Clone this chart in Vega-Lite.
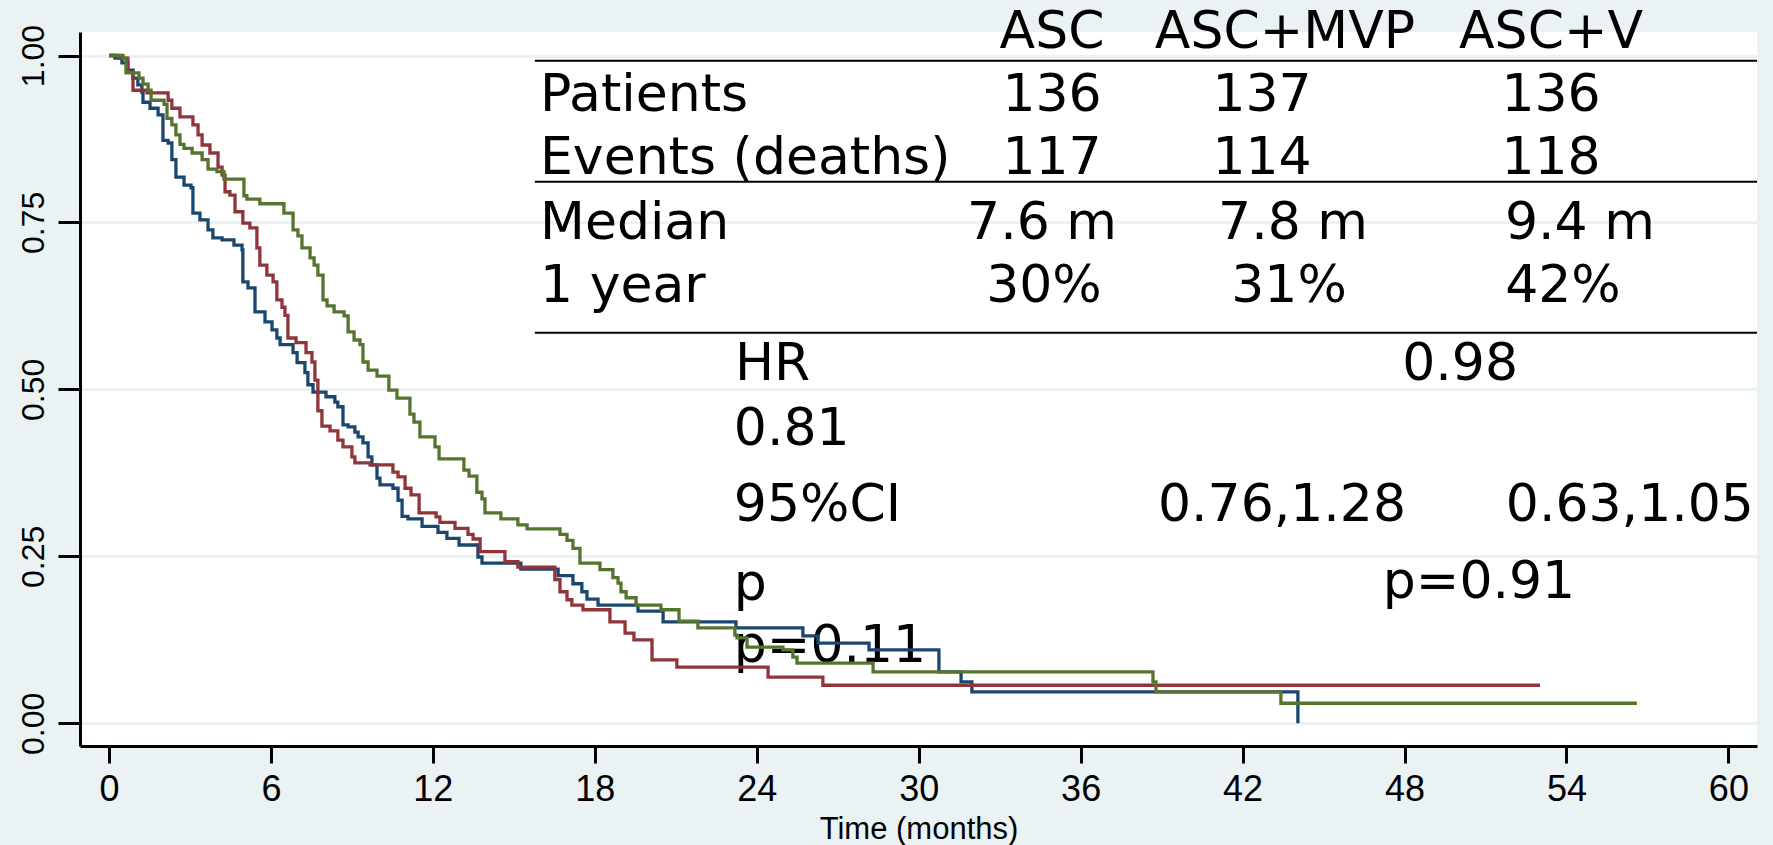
{
  "$schema": "https://vega.github.io/schema/vega-lite/v6.json",
  "width": 1677,
  "height": 714,
  "autosize": {"type": "none"},
  "padding": {"left": 80, "top": 32, "right": 16, "bottom": 99},
  "background": "#EAF2F3",
  "config": {"view": {"fill": "white", "stroke": null}},
  "datasets": {
    "curves": [
      {"arm":"ASC","t":0,"s":1},{"arm":"ASC","t":0.22,"s":0.996},{"arm":"ASC","t":0.48,"s":0.989},{"arm":"ASC","t":0.70,"s":0.978},{"arm":"ASC","t":0.89,"s":0.966},{"arm":"ASC","t":1.07,"s":0.956},{"arm":"ASC","t":1.22,"s":0.945},{"arm":"ASC","t":1.26,"s":0.930},{"arm":"ASC","t":1.52,"s":0.921},{"arm":"ASC","t":1.82,"s":0.911},{"arm":"ASC","t":2.00,"s":0.873},{"arm":"ASC","t":2.19,"s":0.869},{"arm":"ASC","t":2.33,"s":0.844},{"arm":"ASC","t":2.48,"s":0.818},{"arm":"ASC","t":2.78,"s":0.806},{"arm":"ASC","t":3.04,"s":0.802},{"arm":"ASC","t":3.11,"s":0.764},{"arm":"ASC","t":3.37,"s":0.754},{"arm":"ASC","t":3.67,"s":0.739},{"arm":"ASC","t":3.85,"s":0.727},{"arm":"ASC","t":4.19,"s":0.724},{"arm":"ASC","t":4.63,"s":0.716},{"arm":"ASC","t":4.93,"s":0.709},{"arm":"ASC","t":4.96,"s":0.661},{"arm":"ASC","t":5.15,"s":0.652},{"arm":"ASC","t":5.41,"s":0.616},{"arm":"ASC","t":5.78,"s":0.601},{"arm":"ASC","t":6.04,"s":0.589},{"arm":"ASC","t":6.22,"s":0.577},{"arm":"ASC","t":6.34,"s":0.567},{"arm":"ASC","t":6.82,"s":0.555},{"arm":"ASC","t":6.97,"s":0.540},{"arm":"ASC","t":7.26,"s":0.525},{"arm":"ASC","t":7.37,"s":0.507},{"arm":"ASC","t":7.56,"s":0.496},{"arm":"ASC","t":8.04,"s":0.489},{"arm":"ASC","t":8.37,"s":0.481},{"arm":"ASC","t":8.48,"s":0.474},{"arm":"ASC","t":8.67,"s":0.447},{"arm":"ASC","t":8.86,"s":0.444},{"arm":"ASC","t":9.11,"s":0.436},{"arm":"ASC","t":9.23,"s":0.429},{"arm":"ASC","t":9.41,"s":0.420},{"arm":"ASC","t":9.60,"s":0.399},{"arm":"ASC","t":9.74,"s":0.387},{"arm":"ASC","t":9.93,"s":0.367},{"arm":"ASC","t":10.04,"s":0.357},{"arm":"ASC","t":10.52,"s":0.352},{"arm":"ASC","t":10.71,"s":0.334},{"arm":"ASC","t":10.86,"s":0.310},{"arm":"ASC","t":11.08,"s":0.306},{"arm":"ASC","t":11.60,"s":0.295},{"arm":"ASC","t":12.19,"s":0.286},{"arm":"ASC","t":12.52,"s":0.277},{"arm":"ASC","t":12.97,"s":0.267},{"arm":"ASC","t":13.67,"s":0.249},{"arm":"ASC","t":13.82,"s":0.240},{"arm":"ASC","t":15.26,"s":0.231},{"arm":"ASC","t":16.64,"s":0.221},{"arm":"ASC","t":17.19,"s":0.209},{"arm":"ASC","t":17.52,"s":0.197},{"arm":"ASC","t":17.71,"s":0.186},{"arm":"ASC","t":18.12,"s":0.177},{"arm":"ASC","t":19.60,"s":0.168},{"arm":"ASC","t":20.53,"s":0.152},{"arm":"ASC","t":23.23,"s":0.143},{"arm":"ASC","t":25.71,"s":0.131},{"arm":"ASC","t":26.27,"s":0.120},{"arm":"ASC","t":28.16,"s":0.110},{"arm":"ASC","t":30.75,"s":0.077},{"arm":"ASC","t":31.57,"s":0.062},{"arm":"ASC","t":31.97,"s":0.047},{"arm":"ASC","t":44.05,"s":0},
      {"arm":"ASC+MVP","t":0,"s":1},{"arm":"ASC+MVP","t":0.37,"s":0.996},{"arm":"ASC+MVP","t":0.70,"s":0.975},{"arm":"ASC+MVP","t":0.89,"s":0.948},{"arm":"ASC+MVP","t":1.41,"s":0.944},{"arm":"ASC+MVP","t":2.19,"s":0.933},{"arm":"ASC+MVP","t":2.33,"s":0.921},{"arm":"ASC+MVP","t":2.63,"s":0.908},{"arm":"ASC+MVP","t":3.11,"s":0.896},{"arm":"ASC+MVP","t":3.30,"s":0.881},{"arm":"ASC+MVP","t":3.45,"s":0.866},{"arm":"ASC+MVP","t":3.74,"s":0.854},{"arm":"ASC+MVP","t":4.04,"s":0.833},{"arm":"ASC+MVP","t":4.19,"s":0.821},{"arm":"ASC+MVP","t":4.30,"s":0.796},{"arm":"ASC+MVP","t":4.48,"s":0.791},{"arm":"ASC+MVP","t":4.67,"s":0.766},{"arm":"ASC+MVP","t":4.96,"s":0.749},{"arm":"ASC+MVP","t":5.22,"s":0.742},{"arm":"ASC+MVP","t":5.48,"s":0.712},{"arm":"ASC+MVP","t":5.59,"s":0.686},{"arm":"ASC+MVP","t":5.85,"s":0.671},{"arm":"ASC+MVP","t":6.08,"s":0.661},{"arm":"ASC+MVP","t":6.22,"s":0.634},{"arm":"ASC+MVP","t":6.41,"s":0.623},{"arm":"ASC+MVP","t":6.52,"s":0.611},{"arm":"ASC+MVP","t":6.63,"s":0.577},{"arm":"ASC+MVP","t":6.93,"s":0.570},{"arm":"ASC+MVP","t":7.30,"s":0.555},{"arm":"ASC+MVP","t":7.52,"s":0.541},{"arm":"ASC+MVP","t":7.63,"s":0.514},{"arm":"ASC+MVP","t":7.74,"s":0.468},{"arm":"ASC+MVP","t":7.89,"s":0.445},{"arm":"ASC+MVP","t":8.19,"s":0.438},{"arm":"ASC+MVP","t":8.48,"s":0.424},{"arm":"ASC+MVP","t":8.67,"s":0.414},{"arm":"ASC+MVP","t":9.00,"s":0.399},{"arm":"ASC+MVP","t":9.11,"s":0.390},{"arm":"ASC+MVP","t":9.67,"s":0.387},{"arm":"ASC+MVP","t":10.52,"s":0.376},{"arm":"ASC+MVP","t":10.71,"s":0.369},{"arm":"ASC+MVP","t":10.97,"s":0.352},{"arm":"ASC+MVP","t":11.19,"s":0.342},{"arm":"ASC+MVP","t":11.49,"s":0.315},{"arm":"ASC+MVP","t":12.12,"s":0.309},{"arm":"ASC+MVP","t":12.26,"s":0.301},{"arm":"ASC+MVP","t":12.82,"s":0.292},{"arm":"ASC+MVP","t":13.30,"s":0.283},{"arm":"ASC+MVP","t":13.49,"s":0.276},{"arm":"ASC+MVP","t":13.75,"s":0.257},{"arm":"ASC+MVP","t":14.67,"s":0.242},{"arm":"ASC+MVP","t":15.15,"s":0.234},{"arm":"ASC+MVP","t":16.52,"s":0.215},{"arm":"ASC+MVP","t":16.71,"s":0.197},{"arm":"ASC+MVP","t":16.97,"s":0.185},{"arm":"ASC+MVP","t":17.15,"s":0.177},{"arm":"ASC+MVP","t":17.56,"s":0.170},{"arm":"ASC+MVP","t":18.56,"s":0.152},{"arm":"ASC+MVP","t":19.12,"s":0.135},{"arm":"ASC+MVP","t":19.45,"s":0.125},{"arm":"ASC+MVP","t":20.12,"s":0.095},{"arm":"ASC+MVP","t":21.04,"s":0.084},{"arm":"ASC+MVP","t":24.42,"s":0.069},{"arm":"ASC+MVP","t":26.45,"s":0.057},{"arm":"ASC+MVP","t":53.02,"s":0.057},
      {"arm":"ASC+V","t":0,"s":1},{"arm":"ASC+V","t":0.52,"s":0.996},{"arm":"ASC+V","t":0.63,"s":0.974},{"arm":"ASC+V","t":1.11,"s":0.966},{"arm":"ASC+V","t":1.26,"s":0.957},{"arm":"ASC+V","t":1.45,"s":0.948},{"arm":"ASC+V","t":1.56,"s":0.933},{"arm":"ASC+V","t":2.04,"s":0.927},{"arm":"ASC+V","t":2.15,"s":0.906},{"arm":"ASC+V","t":2.33,"s":0.896},{"arm":"ASC+V","t":2.48,"s":0.881},{"arm":"ASC+V","t":2.63,"s":0.867},{"arm":"ASC+V","t":2.78,"s":0.861},{"arm":"ASC+V","t":3.08,"s":0.854},{"arm":"ASC+V","t":3.45,"s":0.844},{"arm":"ASC+V","t":3.67,"s":0.830},{"arm":"ASC+V","t":4.00,"s":0.826},{"arm":"ASC+V","t":4.26,"s":0.815},{"arm":"ASC+V","t":5.00,"s":0.790},{"arm":"ASC+V","t":5.11,"s":0.785},{"arm":"ASC+V","t":5.59,"s":0.778},{"arm":"ASC+V","t":6.48,"s":0.764},{"arm":"ASC+V","t":6.82,"s":0.739},{"arm":"ASC+V","t":7.00,"s":0.730},{"arm":"ASC+V","t":7.15,"s":0.712},{"arm":"ASC+V","t":7.45,"s":0.697},{"arm":"ASC+V","t":7.60,"s":0.686},{"arm":"ASC+V","t":7.74,"s":0.671},{"arm":"ASC+V","t":7.93,"s":0.634},{"arm":"ASC+V","t":8.08,"s":0.625},{"arm":"ASC+V","t":8.34,"s":0.616},{"arm":"ASC+V","t":8.71,"s":0.610},{"arm":"ASC+V","t":8.86,"s":0.586},{"arm":"ASC+V","t":9.08,"s":0.574},{"arm":"ASC+V","t":9.30,"s":0.567},{"arm":"ASC+V","t":9.41,"s":0.541},{"arm":"ASC+V","t":9.60,"s":0.529},{"arm":"ASC+V","t":9.93,"s":0.520},{"arm":"ASC+V","t":10.37,"s":0.499},{"arm":"ASC+V","t":10.67,"s":0.487},{"arm":"ASC+V","t":11.15,"s":0.463},{"arm":"ASC+V","t":11.30,"s":0.451},{"arm":"ASC+V","t":11.52,"s":0.429},{"arm":"ASC+V","t":12.08,"s":0.414},{"arm":"ASC+V","t":12.23,"s":0.396},{"arm":"ASC+V","t":13.15,"s":0.379},{"arm":"ASC+V","t":13.34,"s":0.370},{"arm":"ASC+V","t":13.63,"s":0.346},{"arm":"ASC+V","t":13.82,"s":0.336},{"arm":"ASC+V","t":13.93,"s":0.315},{"arm":"ASC+V","t":14.52,"s":0.306},{"arm":"ASC+V","t":15.15,"s":0.297},{"arm":"ASC+V","t":15.49,"s":0.291},{"arm":"ASC+V","t":16.71,"s":0.283},{"arm":"ASC+V","t":16.97,"s":0.274},{"arm":"ASC+V","t":17.19,"s":0.262},{"arm":"ASC+V","t":17.45,"s":0.240},{"arm":"ASC+V","t":18.19,"s":0.230},{"arm":"ASC+V","t":18.67,"s":0.218},{"arm":"ASC+V","t":18.86,"s":0.210},{"arm":"ASC+V","t":18.97,"s":0.197},{"arm":"ASC+V","t":19.16,"s":0.188},{"arm":"ASC+V","t":19.53,"s":0.177},{"arm":"ASC+V","t":20.45,"s":0.170},{"arm":"ASC+V","t":21.12,"s":0.153},{"arm":"ASC+V","t":21.82,"s":0.143},{"arm":"ASC+V","t":23.19,"s":0.132},{"arm":"ASC+V","t":23.27,"s":0.128},{"arm":"ASC+V","t":23.64,"s":0.114},{"arm":"ASC+V","t":24.97,"s":0.110},{"arm":"ASC+V","t":25.34,"s":0.099},{"arm":"ASC+V","t":25.49,"s":0.090},{"arm":"ASC+V","t":28.31,"s":0.077},{"arm":"ASC+V","t":38.68,"s":0.062},{"arm":"ASC+V","t":38.79,"s":0.047},{"arm":"ASC+V","t":43.42,"s":0.030},{"arm":"ASC+V","t":56.61,"s":0.030}
    ],
    "rules": [
      {"t":15.78,"t2":61.06,"s":0.992},
      {"t":15.78,"t2":61.06,"s":0.811},
      {"t":15.78,"t2":61.06,"s":0.585}
    ],
    "table": [
      {"label":"ASC","role":"cell","t":34.94,"s":1.011},
      {"label":"ASC+MVP","role":"cell","t":43.57,"s":1.011},
      {"label":"ASC+V","role":"cell","t":53.43,"s":1.011},
      {"label":"Patients","role":"rowlabel","t":15.97,"s":0.917},
      {"label":"136","role":"cell","t":34.94,"s":0.917},
      {"label":"137","role":"cell","t":42.72,"s":0.917},
      {"label":"136","role":"cell","t":53.43,"s":0.917},
      {"label":"Events (deaths)","role":"rowlabel","t":15.97,"s":0.823},
      {"label":"117","role":"cell","t":34.94,"s":0.823},
      {"label":"114","role":"cell","t":42.72,"s":0.823},
      {"label":"118","role":"cell","t":53.43,"s":0.823},
      {"label":"Median","role":"rowlabel","t":15.97,"s":0.725},
      {"label":"7.6 m","role":"cell","t":34.57,"s":0.725},
      {"label":"7.8 m","role":"cell","t":43.87,"s":0.725},
      {"label":"9.4 m","role":"cell","t":54.50,"s":0.725},
      {"label":"1 year","role":"rowlabel","t":15.97,"s":0.631},
      {"label":"30%","role":"cell","t":34.64,"s":0.631},
      {"label":"31%","role":"cell","t":43.72,"s":0.631},
      {"label":"42%","role":"cell","t":53.87,"s":0.631},
      {"label":"HR","role":"rowlabel","t":23.19,"s":0.514},
      {"label":"0.98","role":"cell","t":50.06,"s":0.514},
      {"label":"0.81","role":"rowlabel","t":23.15,"s":0.417},
      {"label":"95%CI","role":"rowlabel","t":23.15,"s":0.303},
      {"label":"0.76,1.28","role":"cell","t":43.46,"s":0.303},
      {"label":"0.63,1.05","role":"cell","t":56.35,"s":0.303},
      {"label":"p","role":"rowlabel","t":23.15,"s":0.185},
      {"label":"p=0.91","role":"cell","t":50.76,"s":0.188},
      {"label":"p=0.11","role":"rowlabel","t":23.15,"s":0.092}
    ]
  },
  "encoding": {
    "x": {
      "field": "t",
      "type": "quantitative",
      "title": "Time (months)",
      "scale": {"domain": [-1.074, 61.06], "nice": false, "zero": false},
      "axis": {
        "values": [0, 6, 12, 18, 24, 30, 36, 42, 48, 54, 60],
        "grid": false,
        "domainColor": "black",
        "domainWidth": 3,
        "tickColor": "black",
        "tickWidth": 3,
        "tickSize": 17,
        "labelFont": "Liberation Sans",
        "labelFontSize": 36,
        "labelColor": "black",
        "labelBaseline": "alphabetic",
        "labelPadding": 37,
        "labelFlush": false,
        "labelOverlap": false,
        "titleFont": "Liberation Sans",
        "titleFontSize": 31,
        "titleFontWeight": "normal",
        "titleColor": "black",
        "titleBaseline": "alphabetic",
        "titleY": 92
      }
    },
    "y": {
      "field": "s",
      "type": "quantitative",
      "title": null,
      "scale": {"domain": [-0.034, 1.0352], "nice": false, "zero": false},
      "axis": {
        "values": [0, 0.25, 0.5, 0.75, 1],
        "format": ".2f",
        "grid": true,
        "gridColor": "#EAF2F3",
        "gridWidth": 3,
        "domainColor": "black",
        "domainWidth": 3,
        "tickColor": "black",
        "tickWidth": 3,
        "tickSize": 22,
        "labelAngle": 270,
        "labelAlign": "center",
        "labelBaseline": "alphabetic",
        "labelPadding": 15,
        "labelFont": "Liberation Sans",
        "labelFontSize": 32,
        "labelColor": "black"
      }
    }
  },
  "layer": [
    {
      "data": {"name": "rules"},
      "mark": {"type": "rule", "color": "black", "strokeWidth": 2},
      "encoding": {"x2": {"field": "t2"}}
    },
    {
      "data": {"name": "table"},
      "transform": [{"filter": "datum.role === 'rowlabel'"}],
      "mark": {"type": "text", "font": "DejaVu Sans", "fontSize": 52, "align": "left", "baseline": "alphabetic", "color": "black"},
      "encoding": {"text": {"field": "label"}}
    },
    {
      "data": {"name": "table"},
      "transform": [{"filter": "datum.role === 'cell'"}],
      "mark": {"type": "text", "font": "DejaVu Sans", "fontSize": 52, "align": "center", "baseline": "alphabetic", "color": "black"},
      "encoding": {"text": {"field": "label"}}
    },
    {
      "data": {"name": "curves"},
      "mark": {"type": "line", "interpolate": "step-after", "strokeWidth": 3.3},
      "encoding": {
        "color": {
          "field": "arm",
          "type": "nominal",
          "scale": {"domain": ["ASC", "ASC+MVP", "ASC+V"], "range": ["#1A476F", "#90353B", "#55752F"]},
          "legend": null
        }
      }
    }
  ]
}
